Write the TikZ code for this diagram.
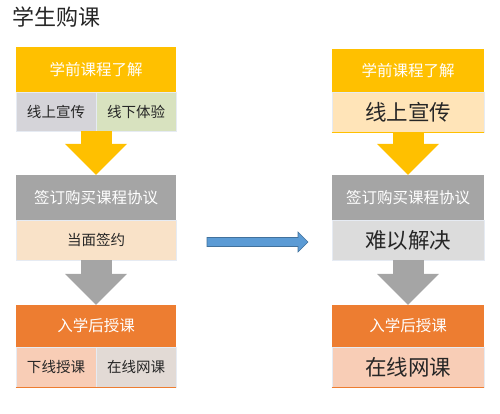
\documentclass[tikz,border=0pt]{standalone}
\usepackage{fontspec}
\setmainfont{Noto Sans CJK SC}
\usetikzlibrary{arrows.meta}

\definecolor{gold}{HTML}{FFC000}
\definecolor{stone}{HTML}{A5A5A5}
\definecolor{rust}{HTML}{ED7D31}
\definecolor{mist}{HTML}{D5D4D9}
\definecolor{sage}{HTML}{D8E2BF}
\definecolor{peach}{HTML}{F9E2C8}
\definecolor{cream}{HTML}{FFE4B8}
\definecolor{silver}{HTML}{DCDCDC}
\definecolor{salmon}{HTML}{F8CDB6}
\definecolor{taupe}{HTML}{E2DAD5}
\definecolor{sky}{HTML}{5B9BD5}
\definecolor{navy}{HTML}{41719C}
\definecolor{edge}{HTML}{E6EBF3}

\begin{document}
\begin{tikzpicture}[x=1pt,y=-1pt,
  head/.style={fill=#1, text=white, inner sep=0pt, minimum height=45pt,
    font=\fontsize{15.5pt}{18pt}\selectfont},
  sub/.style={fill=#1, draw=edge, line width=0.6pt, text=black!85, inner sep=0pt,
    minimum height=40pt, font=\fontsize{14.5pt}{17pt}\selectfont},
  bigtext/.style={font=\fontsize{21.5pt}{24pt}\selectfont},
  downarrow/.style={draw=#1, line width=31pt,
    -{Triangle[width=62pt,length=31pt,line width=0pt]}}]
\useasboundingbox (0,0) rectangle (500,413);

% title
\node[anchor=west, inner sep=0pt, text=black!85, font=\fontsize{22pt}{24pt}\selectfont]
  (title) at (12,17) {学生购课};

% left column: before
\node[head=gold, minimum width=160pt] (lpre) at (96,69.5) {学前课程了解};
\node[sub=mist, minimum width=80pt, minimum height=39pt] (lonline) at (56,111.5) {线上宣传};
\node[sub=sage, minimum width=80pt, minimum height=39pt] (loffline) at (136,111.5) {线下体验};
\node[head=stone, minimum width=160pt] (lsign) at (96,197.5) {签订购买课程协议};
\node[sub=peach, minimum width=160pt] (lface) at (96,240) {当面签约};
\node[head=rust, minimum width=160pt, minimum height=42pt] (lclass) at (96,326) {入学后授课};
\node[sub=salmon, minimum width=80pt] (loffclass) at (56,367) {下线授课};
\node[sub=taupe, minimum width=80pt] (lnetclass) at (136,367) {在线网课};
\draw[rust, line width=1.5pt] (loffclass.south west) -- (lnetclass.south east);

\draw[downarrow=gold] (lpre.south |- lonline.south) -- (lsign.north);
\draw[downarrow=stone] (lface.south) -- (lsign.north |- lclass.north);

% blue arrow between the columns
\coordinate (from) at (207,242);
\coordinate (to) at (308,242);
\draw[draw=navy, fill=sky, line width=0.6pt] (from) ++(0,-4.5) -- ++(91,0) -- ++(0,-5.5)
  -- (to) -- ++(-10,10) -- ++(0,-5.5) -- ++(-91,0) -- cycle;

% right column: after
\node[head=gold, minimum width=152pt, minimum height=43pt] (rpre) at (408,70.5) {学前课程了解};
\node[sub=cream, bigtext, minimum width=152pt] (ronline) at (408,112) {线上宣传};
\node[head=stone, minimum width=152pt] (rsign) at (408,197.5) {签订购买课程协议};
\node[sub=silver, bigtext, minimum width=152pt] (rhard) at (408,240) {难以解决};
\node[head=rust, minimum width=152pt, minimum height=42pt] (rclass) at (408,326) {入学后授课};
\node[sub=salmon, bigtext, minimum width=152pt] (rnetclass) at (408,367) {在线网课};
\draw[gold, line width=1.2pt] (ronline.south west) -- (ronline.south east);
\draw[rust, line width=1.5pt] (rnetclass.south west) -- (rnetclass.south east);

\draw[downarrow=gold] (ronline.south) -- (rsign.north);
\draw[downarrow=stone] (rhard.south) -- (rclass.north);

\end{tikzpicture}
\end{document}
